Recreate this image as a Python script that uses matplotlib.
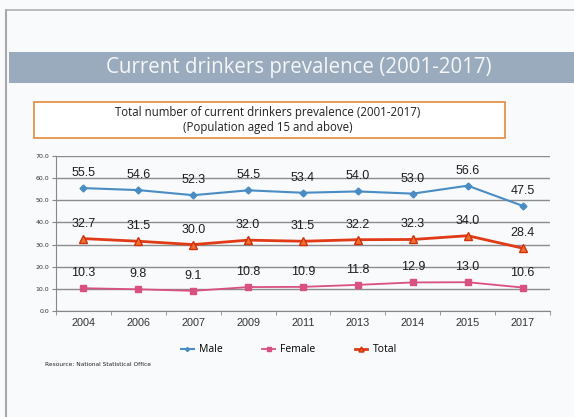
import matplotlib
matplotlib.use("Agg")
import matplotlib.pyplot as plt
from matplotlib.patches import Rectangle
from matplotlib.lines import Line2D

# data
years = ["2004", "2006", "2007", "2009", "2011", "2013", "2014", "2015", "2017"]
male = [55.5, 54.6, 52.3, 54.5, 53.4, 54.0, 53.0, 56.6, 47.5]
female = [10.3, 9.8, 9.1, 10.8, 10.9, 11.8, 12.9, 13.0, 10.6]
total = [32.7, 31.5, 30.0, 32.0, 31.5, 32.2, 32.3, 34.0, 28.4]
yticks = [0, 10, 20, 30, 40, 50, 60, 70]

W, H = 574, 417
fig = plt.figure(figsize=(W / 100, H / 100), dpi=100)
fig.patch.set_facecolor("#f8fafb")

def fx(px):
    return px / W

def fy(py):
    return 1 - py / H

# outer page frame
fig.add_artist(Line2D([fx(6), fx(6)], [fy(10), 0], color="#a8a8a8", lw=1.5))
fig.add_artist(Line2D([fx(6), 1], [fy(10), fy(10)], color="#b0b0b0", lw=1.2))

# title banner
fig.add_artist(Rectangle((fx(9), fy(83)), 1 - fx(9), (83 - 52) / H,
                         facecolor="#9aabbd", edgecolor="none"))
fig.text(fx(299), fy(68), "Current drinkers prevalence (2001-2017)",
         ha="center", va="center", color="#f4f6f8", fontsize=14.8,
         family="Open Sans")

# subtitle box
fig.add_artist(Rectangle((fx(34), fy(138)), fx(505) - fx(34), (138 - 102) / H,
                         facecolor="white", edgecolor="#e38a3a", lw=1.2))
fig.text(fx(268), fy(120), "Total number of current drinkers prevalence (2001-2017)\n(Population aged 15 and above)",
         ha="center", va="center", color="#222222", fontsize=8.3, family="Open Sans",
         linespacing=1.25)

ax = fig.add_axes([fx(56), fy(311), fx(550) - fx(56), (311 - 156) / H])
ax.set_facecolor("#f8fafb")
x = list(range(len(years)))

ax.plot(x, male, color="#4a8cc4", lw=1.5, marker="D", ms=3.5, label="Male")
ax.plot(x, female, color="#d9517e", lw=1.3, marker="s", ms=4.5, label="Female")
ax.plot(x, total, color="#e03a16", lw=2, marker="^", ms=6,
        mfc="#f0712f", mec="#d0300c", mew=1, label="Total")

for series in (male, female, total):
    for i, v in enumerate(series):
        ax.annotate(f"{v:.1f}", (i, v), xytext=(0, 6.5), textcoords="offset points",
                    ha="center", va="bottom", fontsize=9, color="#1e1e1e",
                    family="Liberation Sans")

ax.set_xlim(-0.5, len(years) - 0.5)
ax.set_ylim(0, 70)
ax.set_yticks(yticks)
ax.set_yticklabels([f"{t:.1f}" for t in yticks], fontsize=4.5, color="#333333")
ax.set_xticks(x)
ax.set_xticklabels(years, fontsize=7.8, color="#333333", family="Liberation Sans")
ax.set_xticks([i + 0.5 for i in range(-1, len(years))], minor=True)
ax.tick_params(axis="x", which="major", length=0, pad=5)
ax.tick_params(axis="x", which="minor", length=3, color="#888888")
ax.tick_params(axis="y", length=3, color="#888888", pad=2)
ax.grid(axis="y", color="#8c8c8c", lw=1.0)
ax.set_axisbelow(True)
for s in ("top", "right"):
    ax.spines[s].set_visible(False)
ax.spines["left"].set_color("#888888")
ax.spines["bottom"].set_color("#888888")

handles, labels = ax.get_legend_handles_labels()
fig.legend(handles, labels, loc="center", bbox_to_anchor=(fx(289), fy(350)),
           ncol=3, frameon=False, handlelength=1.2,
           handletextpad=0.5, columnspacing=3.8, markerscale=0.6,
           prop={"family": "Open Sans", "size": 7.5})

fig.text(fx(45), fy(364), "Resource: National Statistical Office",
         fontsize=4.2, color="#222222", va="center")

fig.savefig("out.png", dpi=100, facecolor=fig.get_facecolor())
